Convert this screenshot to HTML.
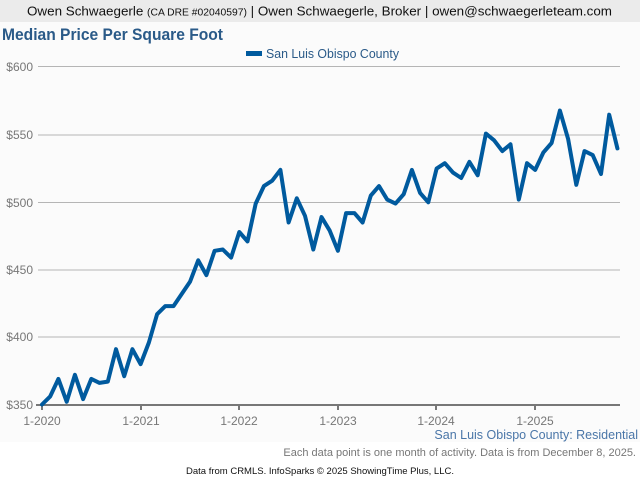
<!DOCTYPE html>
<html><head><meta charset="utf-8"><style>
body{margin:0;width:640px;height:480px;background:#fff;font-family:"Liberation Sans",sans-serif;overflow:hidden}
</style></head><body>
<svg width="640" height="480" xmlns="http://www.w3.org/2000/svg" font-family="Liberation Sans, sans-serif">
<rect x="0" y="0" width="640" height="22" fill="#ebebeb"/>
<rect x="0" y="22" width="640" height="420" fill="#fbfbfb"/>
<text x="27" y="15.5" font-size="13" fill="#111" textLength="585" lengthAdjust="spacingAndGlyphs">Owen Schwaegerle <tspan font-size="10">(CA DRE #02040597)</tspan> | Owen Schwaegerle, Broker | owen@schwaegerleteam.com</text>
<text x="2" y="40" font-size="16.5" font-weight="bold" fill="#2a5a88" textLength="221" lengthAdjust="spacingAndGlyphs">Median Price Per Square Foot</text>
<rect x="246" y="51" width="16" height="5" fill="#005a9e"/>
<text x="266" y="58" font-size="12.5" fill="#2a5a88" textLength="133" lengthAdjust="spacingAndGlyphs">San Luis Obispo County</text>
<g stroke="#b5b5b5" stroke-width="1">
<line x1="38" x2="620" y1="66.5" y2="66.5"/><line x1="38" x2="620" y1="135" y2="135"/>
<line x1="38" x2="620" y1="202.5" y2="202.5"/><line x1="38" x2="620" y1="270" y2="270"/>
<line x1="38" x2="620" y1="337" y2="337"/>
</g>
<g fill="#777" font-size="12" text-anchor="end">
<text x="33" y="71">$600</text><text x="33" y="139">$550</text><text x="33" y="207">$500</text>
<text x="33" y="274">$450</text><text x="33" y="341">$400</text><text x="33" y="409">$350</text>
</g>
<line x1="36" x2="620" y1="405" y2="405" stroke="#777" stroke-width="2"/>
<g stroke="#777" stroke-width="2">
<line x1="42" x2="42" y1="405" y2="410"/><line x1="141" x2="141" y1="405" y2="410"/>
<line x1="239" x2="239" y1="405" y2="410"/><line x1="338" x2="338" y1="405" y2="410"/>
<line x1="436" x2="436" y1="405" y2="410"/><line x1="535" x2="535" y1="405" y2="410"/>
</g>
<g fill="#777" font-size="12" text-anchor="middle">
<text x="42" y="425">1-2020</text><text x="141" y="425">1-2021</text><text x="239" y="425">1-2022</text>
<text x="338" y="425">1-2023</text><text x="436" y="425">1-2024</text><text x="535" y="425">1-2025</text>
</g>
<text x="638" y="439" font-size="12.5" text-anchor="end" fill="#4a76a8">San Luis Obispo County: Residential</text>
<text x="636" y="456" font-size="11" text-anchor="end" fill="#777">Each data point is one month of activity. Data is from December 8, 2025.</text>
<text x="320" y="474" font-size="9.5" text-anchor="middle" fill="#111">Data from CRMLS. InfoSparks © 2025 ShowingTime Plus, LLC.</text>
<polyline id="ln" fill="none" stroke="#005a9e" stroke-width="4" stroke-linejoin="round" stroke-linecap="round" points=""/>
</svg>
<script>
var v=[350,356,369,352,372,354,369,366,367,391,371,391,380,396,417,423,423,432,441,457,446,464,465,459,478,471,499,512,516,524,485,503,490,465,489,479,464,492,492,485,505,512,502,499,506,524,507,500,525,529,522,518,530,520,551,546,538,543,502,529,524,537,544,568,547,513,538,535,521,565,540];
var p=[];for(var i=0;i<v.length;i++){p.push((42+i*8.22).toFixed(1)+","+(404.5-(v[i]-350)*1.348).toFixed(1));}
document.getElementById("ln").setAttribute("points",p.join(" "));
</script>
</body></html>
